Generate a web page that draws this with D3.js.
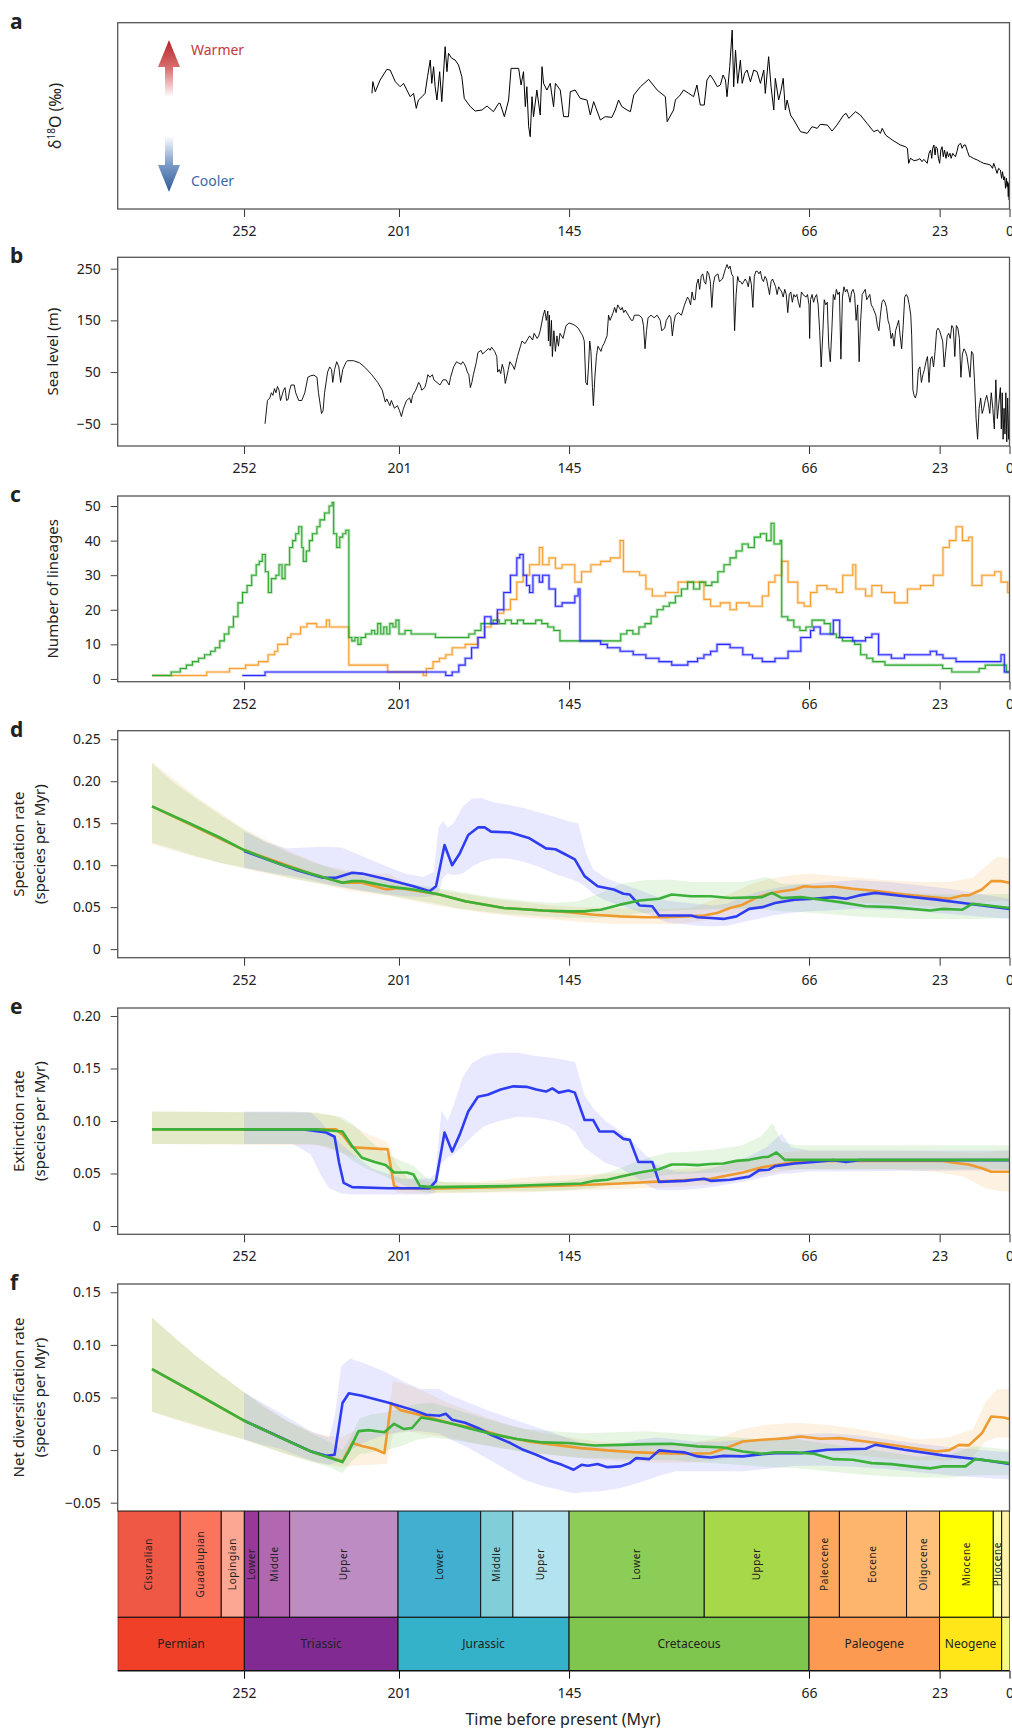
<!DOCTYPE html>
<html>
<head>
<meta charset="utf-8">
<script src="https://cdn.jsdelivr.net/npm/d3@7"></script>
<style>
body { margin: 0; background: #fff; }
svg text { font-family: "Noto Sans", "DejaVu Sans", sans-serif; fill: #222; }
</style>
</head>
<body>
<div id="chart"></div>
<script>
// ---- data (ages in Myr before present) ----
var ageTicks = [252, 201, 145, 66, 23, 0];

// panel a: benthic d18O (permil)
var d18O = [[209.9,-0.50],[209.6,-0.85],[208.8,-0.55],[207.2,-0.90],[205.0,-1.22],[203.9,-1.20],[202.2,-0.85],[200.6,-0.70],[199.5,-0.80],[198.4,-0.60],[197.3,-0.40],[196.2,-0.50],[195.3,-0.05],[194.6,-0.30],[193.4,-0.40],[192.4,-0.50],[191.6,-1.00],[190.7,-1.50],[190.2,-0.80],[189.6,-1.30],[189.1,-0.70],[188.5,-0.30],[187.6,-1.15],[186.9,-0.25],[185.8,-1.90],[185.2,-1.15],[184.7,-1.70],[183.6,-1.55],[182.5,-1.50],[181.4,-1.35],[180.3,-1.00],[179.5,-0.35],[177.5,-0.10],[175.9,0.03],[173.7,0.00],[172.0,-0.12],[169.9,0.05],[168.2,-0.20],[167.7,-0.20],[166.3,0.20],[164.9,-0.30],[164.1,-1.25],[161.6,-1.25],[160.8,-0.75],[160.0,-1.15],[159.4,-0.10],[158.9,-0.70],[158.3,0.50],[157.8,0.80],[157.2,-0.40],[156.7,0.20],[155.6,-0.60],[154.5,0.15],[153.9,-1.30],[153.4,-0.80],[152.3,-0.60],[151.2,-0.80],[150.1,-0.10],[149.5,-0.80],[147.9,-0.60],[146.8,0.20],[145.2,0.20],[144.6,-0.55],[143.0,-0.60],[141.3,-0.35],[139.1,-0.30],[138.0,0.15],[136.9,-0.25],[134.7,0.30],[133.1,0.20],[130.9,0.22],[129.8,0.00],[128.7,-0.30],[127.6,-0.10],[125.9,0.00],[124.8,0.05],[123.7,-0.45],[121.5,-0.70],[118.8,-0.92],[116.0,-0.60],[113.3,-0.40],[112.7,0.35],[110.6,0.00],[110.0,-0.30],[108.4,-0.45],[107.3,-0.60],[105.6,-0.50],[104.0,-0.40],[102.9,-0.75],[101.8,-0.15],[100.5,-0.15],[99.6,-0.90],[98.5,-1.05],[97.4,-0.90],[96.2,-0.70],[95.2,-0.75],[94.3,-1.05],[93.5,-0.90],[93.0,-0.40],[92.1,-1.30],[91.3,-2.40],[90.8,-0.70],[90.2,-1.80],[89.5,-0.80],[88.6,-1.50],[88.0,-0.80],[87.2,-1.10],[86.4,-1.20],[85.3,-0.85],[84.2,-1.20],[83.1,-1.15],[82.0,-0.80],[80.9,-1.20],[80.4,-0.50],[79.3,-1.60],[78.5,-0.70],[77.6,0.00],[77.1,-0.95],[76.0,-0.30],[75.2,-0.60],[74.5,-0.95],[73.8,0.00],[73.2,-0.30],[72.1,0.15],[71.0,0.30],[68.8,0.65],[66.6,0.70],[65.0,0.50],[63.3,0.55],[62.3,0.43],[60.0,0.45],[58.4,0.63],[56.8,0.45],[54.6,0.15],[53.8,0.10],[52.9,0.25],[50.7,0.05],[49.1,0.15],[46.9,0.40],[44.7,0.65],[43.4,0.60],[42.5,0.70],[41.9,0.55],[40.8,0.75],[38.6,0.90],[35.9,1.05],[34.3,1.10],[33.6,1.15],[33.2,1.60],[32.6,1.45],[31.4,1.52],[30.4,1.50],[29.5,1.46],[28.8,1.55],[28.2,1.48],[27.1,1.60],[26.5,1.30],[26.0,1.20],[25.6,1.45],[25.3,1.15],[24.9,1.05],[24.5,1.35],[24.2,1.10],[23.8,1.15],[23.4,1.45],[23.0,1.60],[22.6,1.20],[22.2,1.10],[21.8,1.40],[21.4,1.20],[20.9,1.45],[20.5,1.25],[20.1,1.40],[19.6,1.30],[19.2,1.45],[18.7,1.30],[18.3,1.35],[17.8,1.40],[17.3,1.25],[16.8,1.05],[16.1,1.00],[15.6,1.15],[15.0,1.05],[14.5,1.05],[13.8,1.25],[13.2,1.40],[12.8,1.40],[11.9,1.45],[10.6,1.50],[9.6,1.55],[8.5,1.60],[7.4,1.62],[6.3,1.65],[5.6,1.75],[5.2,1.60],[4.6,1.75],[4.1,1.90],[3.6,1.75],[3.0,1.80],[2.6,2.05],[2.3,1.85],[1.9,2.10],[1.6,2.00],[1.3,2.35],[1.0,2.05],[0.8,2.30],[0.6,2.15],[0.4,2.60],[0.25,2.20],[0.1,2.70],[0.0,2.40]];

// panel b: sea level (m)
var seaLevel = [[245.1,-50],[244.3,-5],[243.5,0],[243,10],[242.5,5],[242,18],[241.5,10],[241,22],[240.5,15],[240,-5],[239,15],[238.5,20],[238,-5],[237.5,-3],[237,15],[236.5,25],[235.5,25],[235,10],[234,-5],[233,-5],[232,10],[231,40],[230,43],[229,44],[228,40],[227.5,10],[227,-10],[226.5,-30],[226,-25],[225.5,10],[224.5,50],[223.8,60],[223.2,55],[222.8,30],[222.2,55],[221.5,70],[220.8,60],[220.2,30],[219.5,55],[218.5,68],[218,72],[216,72],[214,68],[212,58],[210,45],[208,30],[206.5,15],[205.5,-8],[205,-2],[204,-15],[203.5,-5],[202.5,-20],[201.5,-15],[200.8,-25],[200.2,-36],[199.5,-20],[198.5,-5],[197.5,0],[197,-10],[196.5,5],[195.5,15],[194.5,30],[194,25],[193.5,15],[192.5,20],[192,30],[191.5,45],[190.8,40],[190,45],[189.5,35],[188.5,30],[187.5,25],[186.5,35],[185.5,35],[184.5,25],[184,40],[183,60],[182,70],[181.5,68],[180.5,65],[180,70],[179.5,66],[179,60],[178.5,50],[178,45],[177.5,20],[177,30],[176.5,45],[175.5,70],[175,88],[174,92],[173.5,85],[172.5,90],[171.5,96],[171,92],[170.5,98],[169.5,90],[168.8,80],[168.5,50],[168,55],[167.5,47],[167,65],[166.5,55],[166,28],[165,55],[164.5,70],[163.5,62],[163,55],[162,80],[161,100],[160.5,110],[159.5,105],[158.5,115],[158,120],[157,112],[156.5,125],[155.5,115],[155,120],[154.5,130],[153.5,160],[153,170],[152.5,150],[152,168],[151.8,110],[151.5,160],[151.2,100],[150.8,150],[150.5,80],[150,130],[149.5,90],[149,120],[148.5,100],[148,125],[147,115],[146,140],[145,145],[144,143],[143,140],[142,135],[141,125],[140.5,120],[140,110],[139.5,30],[139,25],[138.6,60],[138.2,110],[137.8,90],[137.3,20],[137,-15],[136.5,40],[136,80],[135.5,100],[134.5,90],[134,100],[133.5,105],[132.5,120],[132,160],[131.5,150],[130.5,165],[130,175],[129.5,165],[129,180],[128,170],[127.5,175],[127,165],[126.5,170],[125.5,160],[124.5,150],[124,150],[123.5,160],[122,160],[121,155],[120.5,140],[120,95],[119.5,130],[119,155],[118,160],[117,155],[116,160],[115,150],[114.5,130],[113.5,135],[113,150],[112,160],[111.5,155],[111,120],[110.5,145],[110,160],[109,165],[108,160],[107,180],[106,195],[105.5,190],[105,180],[104.5,205],[104,190],[103.5,190],[103,220],[102.5,230],[102,210],[101.5,235],[101,240],[100.5,225],[100,220],[99.5,245],[99,240],[98.5,225],[98,175],[97.5,220],[97,235],[96,240],[95.5,225],[94.5,230],[94,240],[93.5,250],[93,258],[92.5,250],[92,255],[91.5,240],[91,235],[90.5,130],[90,200],[89.5,235],[89,225],[88.5,225],[88,220],[87,230],[86.5,225],[86,215],[85.5,235],[85,220],[84.5,175],[84,235],[83.5,245],[83,245],[82.5,240],[82,245],[81.5,230],[81,225],[80.5,235],[80,230],[79.5,215],[79,200],[78.5,225],[78,230],[77,215],[76.5,200],[76,215],[75.5,210],[75,205],[74.5,195],[74,210],[73.5,200],[73,165],[72.5,200],[72,205],[71.5,185],[71,200],[70.5,195],[70,200],[69.5,185],[69,175],[68.5,205],[68,200],[67,195],[66.5,200],[66,180],[65.8,115],[65.5,190],[65,200],[64.5,185],[64,195],[63.5,200],[63,180],[62.5,130],[62,60],[61.5,120],[61,190],[60.5,180],[60,185],[59.5,100],[59,70],[58.5,130],[58,200],[57.5,190],[57,210],[56.5,200],[56,205],[55.5,75],[55,195],[54.5,215],[54,205],[53.5,210],[53,200],[52.5,185],[52,205],[51.5,210],[51,200],[50.5,150],[50,180],[49.5,70],[49,150],[48.5,200],[48,205],[47.5,210],[47,190],[46.5,195],[46,200],[45.5,180],[45,175],[44,160],[43.5,140],[43,130],[42.5,160],[42,185],[41.5,190],[41,185],[40.5,175],[40,150],[39.5,140],[39,115],[38.5,125],[38,100],[37.5,130],[37,140],[36.5,150],[36,120],[35.5,95],[35,140],[34.5,195],[34,200],[33.5,195],[33,180],[32.5,160],[32.2,120],[31.8,15],[31.4,5],[31,0],[30.5,10],[30,55],[29.5,60],[29,30],[28.5,45],[28,55],[27.5,70],[27,80],[26.5,30],[26,75],[25.5,80],[25,60],[24.5,90],[24,130],[23.5,135],[23,130],[22.5,120],[22,110],[21.5,60],[21,90],[20.5,120],[20,125],[19.5,115],[19,140],[18.5,135],[18,80],[17.5,140],[17,135],[16.5,115],[16,40],[15.5,85],[15,95],[14.5,90],[14,80],[13.5,60],[13,40],[12.5,90],[12,85],[11.5,30],[11,-40],[10.5,-80],[10,-20],[9.5,0],[9,-30],[8.5,-20],[8,-5],[7.5,5],[7,-10],[6.5,-30],[6,10],[5.5,-20],[5,-60],[4.5,35],[4,-40],[3.5,-10],[3,20],[2.7,-60],[2.4,10],[2.1,-80],[1.8,-20],[1.5,-70],[1.2,10],[0.9,-85],[0.6,0],[0.3,-80],[0,-10]];

// panel c: lineages through time (step values)
var lineagesGreen = [[282.3,1],[277,1],[276,2],[273,3],[271,4],[269,5],[267,6],[265,7],[263,8],[261.5,9],[260,11],[258.5,13],[257,15],[255.5,18],[254,22],[252.5,25],[251,27],[249.5,30],[248,33],[247,34],[246,36],[245,31],[244,25],[243,29],[241.5,30],[240.5,33],[239.5,29],[238.5,33],[237,38],[236,40],[235,42],[234,44],[233,38],[232.5,34],[231.5,37],[230.5,40],[229.5,42],[228,44],[227,46],[225.5,48],[224,50],[223,51],[222.5,42],[221.5,38],[220.5,41],[219.5,42],[218.5,43],[217.5,12],[216.5,11],[215.5,12],[214.5,10],[213.5,12],[212,13],[210,14],[209,13],[208,16],[207,13],[206,15],[205,13],[204,16],[203,15],[202,17],[201,13],[199,14],[197,13],[189,12],[178,13],[176,14],[174,16],[172,16],[170,17],[168,16],[166,17],[164,16],[162,17],[160,16],[156,17],[154,16],[152,15],[150,14],[148,11],[130,11],[128,13],[126,14],[124,13],[122,15],[120,16],[118,18],[116,20],[114,21],[112,22],[110,24],[108,26],[106,28],[104,26],[102,28],[100,27],[98,28],[96,31],[94,33],[92,35],[90,37],[88,39],[86,38],[84,41],[82,42],[80,40],[78.5,45],[77.5,39],[75.5,40],[75,18],[73,17],[71,15],[69,14],[67,15],[65,17],[61,16],[59,13],[57,12],[55,11],[51,10],[49,7],[47,6],[45,5],[41,4],[22,3],[19,2],[10,3],[8,4],[1,2],[0,2]];
var lineagesOrange = [[282.3,1],[264.3,2],[256.8,3],[251.5,4],[247.3,5],[244.1,7],[241.9,8],[240.9,10],[237.7,12],[236.6,13],[233.4,15],[231.3,16],[228.1,15],[224.9,17],[223.9,15],[217.5,4],[204.7,2],[193.0,1],[192.0,3],[189.8,5],[187.7,6],[185.6,7],[183.5,9],[179.2,10],[175.0,12],[172.8,15],[170.7,16],[168.6,19],[166.5,20],[164.3,23],[162.2,28],[160.1,30],[158.0,33],[154.8,38],[153.7,33],[151.6,35],[149.5,32],[147.3,33],[143.1,28],[140.9,31],[137.8,33],[134.6,34],[131.4,35],[128.2,40],[127.1,31],[121.8,30],[119.7,26],[117.6,24],[113.3,25],[109.1,28],[100.6,23],[98.4,21],[95.2,22],[92.0,20],[89.9,22],[85.7,21],[81.4,24],[79.3,28],[77.2,30],[75.0,34],[72.9,28],[69.7,22],[67.6,21],[65.5,25],[63.4,27],[60.1,26],[57.0,25],[54.9,30],[51.6,33],[50.6,26],[47.4,24],[45.3,27],[42.1,25],[37.8,22],[33.6,26],[29.3,27],[25.1,30],[21.9,38],[19.8,40],[17.6,44],[15.5,40],[13.4,41],[12.3,27],[9.1,30],[4.9,31],[2.8,28],[0.6,25],[0,25]];
var lineagesBlue = [[252.6,1],[245.1,2],[185.6,1],[183.5,2],[181.3,4],[179.2,6],[177.1,9],[175.0,12],[172.8,18],[170.7,16],[168.6,20],[166.5,25],[164.3,30],[162.2,35],[161.2,36],[160.1,30],[159.0,27],[158.0,25],[156.9,30],[154.8,28],[153.7,30],[151.6,26],[149.5,21],[147.3,22],[143.1,24],[142.0,26],[141.4,11],[134.6,10],[132.4,9],[128.2,8],[123.9,7],[119.7,6],[115.4,5],[111.2,4],[105.9,5],[102.7,6],[100.6,7],[98.4,8],[96.3,10],[92.0,9],[87.8,7],[84.6,6],[81.4,5],[77.2,6],[72.9,8],[68.7,12],[65.5,14],[64.4,15],[62.3,13],[58.0,17],[55.9,12],[51.6,11],[47.4,12],[45.3,13],[43.1,7],[38.9,6],[34.6,7],[26.1,8],[24.0,7],[21.9,6],[17.6,5],[4.9,5],[2.8,7],[1.7,2],[0,2]];

// panel d: speciation rate, mean [age, rate] and 95% band [age, lo, hi]
var specGreen = [[282.3,0.170],[270,0.150],[260,0.133],[252,0.118],[240,0.101],[230.2,0.090],[219.6,0.079],[216.4,0.081],[213.2,0.081],[204.7,0.075],[201,0.073],[196.2,0.071],[187.7,0.065],[179.2,0.057],[166.5,0.049],[153.7,0.046],[145.2,0.045],[139.9,0.045],[137.8,0.046],[134.6,0.047],[128.2,0.053],[121.8,0.058],[115.4,0.060],[111.2,0.065],[104.8,0.063],[98.4,0.063],[92.0,0.061],[81.4,0.062],[78.2,0.067],[75.0,0.061],[68.7,0.062],[64.4,0.060],[55.9,0.056],[47.4,0.051],[38.9,0.050],[26.1,0.046],[21.9,0.048],[15.5,0.047],[12.3,0.054],[7.0,0.052],[0,0.049]];
var specOrange = [[282.3,0.170],[252,0.118],[230.2,0.090],[219.6,0.079],[213.2,0.079],[206,0.072],[204.7,0.071],[201,0.073],[187.7,0.065],[179.2,0.057],[166.5,0.049],[153.7,0.046],[145.2,0.044],[136.7,0.041],[128.2,0.039],[119.7,0.038],[113.3,0.038],[106.9,0.039],[100.6,0.040],[96.3,0.043],[92.0,0.049],[87.8,0.053],[83.5,0.061],[79.3,0.066],[75.0,0.069],[70.8,0.071],[67.6,0.075],[64.4,0.074],[58.0,0.075],[51.6,0.072],[43.1,0.069],[34.6,0.065],[26.1,0.062],[19.8,0.060],[15.5,0.064],[13.4,0.064],[9.1,0.071],[6.0,0.081],[2.8,0.081],[0,0.079]];
var specBlue = [[252,0.117],[234.5,0.094],[226,0.085],[221.7,0.085],[216.4,0.091],[213.2,0.090],[204.7,0.083],[196.2,0.075],[190.9,0.069],[188.8,0.075],[186,0.124],[183.5,0.100],[181,0.114],[178.2,0.136],[175,0.145],[172.8,0.145],[170.7,0.140],[164.3,0.139],[158,0.132],[152.6,0.120],[149.5,0.119],[146.3,0.113],[143.1,0.107],[139.9,0.087],[135.6,0.075],[130.3,0.071],[127.1,0.066],[125,0.065],[121.8,0.052],[117.6,0.051],[115.4,0.040],[111.2,0.040],[104.8,0.040],[102.7,0.038],[98.4,0.037],[94.2,0.036],[89.9,0.039],[85.7,0.048],[81.4,0.050],[77.2,0.055],[70.8,0.059],[64.4,0.060],[58,0.062],[53.8,0.060],[49.5,0.064],[44.2,0.067],[34.6,0.063],[24,0.059],[13.4,0.054],[0,0.048]];
var specBandGreen = [[282.3,0.127,0.221],[275,0.119,0.198],[268,0.111,0.180],[260,0.103,0.160],[252,0.097,0.142],[245,0.092,0.128],[238,0.086,0.116],[230,0.080,0.104],[222,0.075,0.095],[214,0.070,0.088],[206,0.065,0.083],[198,0.060,0.078],[190,0.055,0.074],[182,0.049,0.069],[174,0.045,0.064],[166,0.042,0.060],[158,0.040,0.057],[150,0.038,0.055],[142,0.037,0.057],[135,0.037,0.066],[128,0.040,0.078],[120,0.043,0.082],[112,0.046,0.083],[104,0.047,0.080],[96,0.048,0.080],[88,0.048,0.080],[80,0.047,0.086],[75,0.045,0.078],[68,0.044,0.078],[60,0.042,0.075],[50,0.039,0.070],[40,0.037,0.068],[30,0.036,0.066],[20,0.036,0.065],[10,0.036,0.065],[0,0.037,0.066]];
var specBandOrange = [[282.3,0.125,0.223],[268,0.110,0.182],[252,0.096,0.143],[238,0.085,0.118],[226,0.077,0.100],[218,0.070,0.094],[210,0.066,0.090],[204,0.064,0.090],[200,0.060,0.080],[190,0.053,0.072],[180,0.047,0.066],[170,0.042,0.060],[160,0.038,0.056],[150,0.035,0.052],[140,0.032,0.050],[130,0.030,0.049],[120,0.030,0.048],[110,0.030,0.048],[104,0.032,0.050],[98,0.035,0.058],[92,0.040,0.066],[86,0.046,0.076],[80,0.052,0.083],[72,0.056,0.088],[66,0.058,0.090],[60,0.058,0.088],[50,0.056,0.085],[40,0.054,0.082],[30,0.052,0.080],[20,0.050,0.080],[12,0.052,0.085],[8,0.056,0.098],[4,0.058,0.110],[0,0.057,0.108]];
var specBandBlue = [[252,0.097,0.140],[245,0.092,0.128],[238,0.088,0.120],[232,0.084,0.121],[226,0.079,0.122],[220,0.074,0.121],[214,0.070,0.112],[206,0.066,0.100],[199,0.063,0.090],[193,0.062,0.086],[189.5,0.063,0.092],[188,0.066,0.145],[186.5,0.085,0.153],[185,0.090,0.145],[183,0.088,0.150],[180,0.090,0.170],[177,0.098,0.179],[174,0.104,0.180],[170,0.108,0.175],[165,0.108,0.172],[160,0.104,0.168],[155,0.098,0.163],[150,0.090,0.158],[145,0.084,0.152],[142,0.080,0.150],[139.5,0.074,0.115],[137,0.066,0.095],[133,0.058,0.085],[128,0.052,0.078],[123,0.046,0.072],[118,0.040,0.065],[113,0.032,0.058],[108,0.030,0.056],[103,0.028,0.054],[98,0.027,0.052],[93,0.028,0.054],[88,0.032,0.062],[83,0.036,0.068],[78,0.040,0.072],[72,0.043,0.076],[66,0.045,0.078],[60,0.046,0.080],[50,0.048,0.082],[40,0.047,0.080],[30,0.045,0.076],[20,0.042,0.072],[10,0.039,0.066],[0,0.036,0.060]];

// panel e: extinction rate
var extGreen = [[282.3,0.092],[228.1,0.092],[219.6,0.090],[216.4,0.076],[213.2,0.065],[209,0.061],[205.4,0.058],[202.6,0.051],[198.4,0.051],[196.2,0.049],[194.1,0.038],[189.8,0.037],[166,0.038],[140.9,0.0405],[136.7,0.043],[132.4,0.044],[128.2,0.047],[121.8,0.051],[115.4,0.054],[111.2,0.0585],[106.9,0.0585],[102.7,0.058],[98.4,0.059],[94.2,0.0595],[89.9,0.062],[85.7,0.063],[81.4,0.0655],[79.3,0.066],[76.7,0.070],[74,0.063],[0,0.063]];
var extOrange = [[282.3,0.092],[221.7,0.092],[219.6,0.087],[216.4,0.075],[204.7,0.073],[202.6,0.038],[200.5,0.0357],[187.7,0.0357],[145.2,0.0386],[128.2,0.0405],[111.2,0.043],[98.4,0.045],[87.8,0.051],[81.4,0.056],[75,0.059],[68.7,0.0617],[55.9,0.062],[21.9,0.062],[17.6,0.060],[13.4,0.0585],[9.1,0.055],[6,0.0516],[0,0.0516]];
var extBlue = [[252,0.092],[232.4,0.092],[224.9,0.089],[222.2,0.085],[220.7,0.060],[219.2,0.041],[216.4,0.037],[204.7,0.036],[190.9,0.036],[188.8,0.043],[186,0.089],[183.5,0.071],[181,0.087],[178.2,0.109],[175,0.123],[171.8,0.125],[167.5,0.130],[163.3,0.133],[159,0.1325],[155.8,0.130],[152.6,0.128],[150.5,0.131],[148.4,0.127],[145.2,0.129],[143.1,0.127],[139.9,0.101],[137.1,0.101],[135,0.090],[130.3,0.090],[127.1,0.083],[125,0.082],[122.2,0.061],[117.6,0.061],[115.4,0.042],[106.9,0.043],[100.6,0.045],[98.4,0.043],[92,0.044],[85.7,0.047],[82.5,0.053],[79.3,0.0535],[77.2,0.057],[70.8,0.0595],[64.4,0.061],[58,0.0627],[53.8,0.061],[49.5,0.0627],[0,0.0627]];
var extBandGreen = [[282.3,0.078,0.109],[230,0.078,0.108],[225,0.076,0.106],[220,0.070,0.104],[216,0.062,0.097],[212,0.055,0.085],[208,0.050,0.075],[204,0.045,0.067],[200,0.040,0.062],[196,0.034,0.057],[192,0.032,0.046],[186,0.032,0.042],[176,0.032,0.041],[166,0.033,0.041],[156,0.033,0.042],[146,0.034,0.043],[138,0.036,0.047],[130,0.039,0.053],[124,0.042,0.060],[118,0.046,0.066],[112,0.049,0.070],[104,0.050,0.071],[96,0.051,0.073],[88,0.053,0.077],[82,0.054,0.085],[78,0.055,0.098],[75,0.054,0.080],[70,0.054,0.077],[0,0.054,0.077]];
var extBandOrange = [[282.3,0.078,0.109],[228,0.077,0.108],[222,0.072,0.105],[216,0.066,0.095],[210,0.062,0.086],[205,0.056,0.080],[202,0.032,0.060],[198,0.031,0.045],[190,0.031,0.042],[175,0.032,0.042],[160,0.032,0.046],[150,0.033,0.048],[140,0.034,0.049],[130,0.035,0.050],[120,0.036,0.052],[110,0.037,0.054],[100,0.039,0.056],[90,0.043,0.060],[82,0.048,0.066],[75,0.052,0.070],[68,0.054,0.072],[40,0.054,0.072],[25,0.052,0.071],[15,0.047,0.070],[8,0.036,0.070],[3,0.033,0.072],[0,0.033,0.072]];
var extBandBlue = [[252,0.078,0.109],[236,0.078,0.109],[230,0.068,0.108],[227,0.050,0.100],[224,0.036,0.090],[220,0.031,0.078],[216,0.030,0.068],[210,0.030,0.055],[200,0.030,0.045],[191,0.030,0.045],[189,0.032,0.050],[187,0.060,0.110],[185,0.065,0.100],[183,0.068,0.115],[180,0.076,0.142],[177,0.085,0.155],[173,0.095,0.162],[168,0.100,0.165],[162,0.104,0.165],[156,0.103,0.162],[150,0.100,0.160],[146,0.096,0.158],[143,0.090,0.156],[140,0.075,0.125],[137,0.068,0.112],[133,0.060,0.100],[128,0.055,0.090],[124,0.048,0.080],[120,0.040,0.068],[116,0.034,0.058],[110,0.034,0.052],[104,0.035,0.052],[98,0.037,0.055],[92,0.040,0.060],[86,0.043,0.066],[80,0.047,0.075],[75,0.050,0.088],[72,0.050,0.075],[66,0.052,0.072],[0,0.053,0.072]];

// panel f: net diversification rate
var netGreen = [[282.3,0.077],[268.5,0.055],[252,0.028],[240.9,0.013],[230.2,-0.001],[219.6,-0.0114],[217.5,-0.001],[214.3,0.018],[211.1,0.019],[205.8,0.017],[202.6,0.025],[199.4,0.020],[196.7,0.021],[193.7,0.031],[189.8,0.029],[183.5,0.025],[177.1,0.020],[170.7,0.0155],[162.2,0.0105],[153.7,0.0073],[145.2,0.0067],[136.7,0.0044],[128.2,0.005],[119.7,0.0057],[111.2,0.006],[102.7,0.0035],[94.2,0.0025],[87.8,-0.0013],[81.4,-0.0035],[77.2,-0.0022],[70.8,-0.0022],[64.4,-0.0035],[58,-0.0086],[51.6,-0.0092],[45.3,-0.0124],[38.9,-0.0133],[32.5,-0.0155],[26.1,-0.0174],[21.9,-0.0155],[14.5,-0.0155],[11.3,-0.0086],[0,-0.0124]];
var netOrange = [[282.3,0.077],[252,0.028],[230.2,-0.001],[219.6,-0.0105],[216.4,0.0067],[213.2,0.004],[209,0.001],[205.8,-0.003],[203.6,0.0447],[200.5,0.038],[192,0.032],[183.5,0.025],[175,0.020],[166.5,0.013],[158,0.008],[149.5,0.005],[141,0.0019],[132.4,-0.0003],[124,-0.0019],[115.4,-0.0029],[106.9,-0.0035],[98.4,-0.003],[92,0.0035],[87.8,0.0082],[81.4,0.0098],[77.2,0.0105],[72.9,0.0114],[68.7,0.013],[62.3,0.0108],[55.9,0.0114],[47.4,0.0082],[38.9,0.005],[30.4,0.0013],[24,-0.0013],[19.8,0.000],[16.6,0.005],[13.4,0.0045],[9.1,0.016],[6,0.032],[2,0.031],[0,0.0295]];
var netBlue = [[252,0.028],[230.2,-0.001],[224.9,-0.0054],[222.2,-0.0044],[219.6,0.0447],[217.5,0.054],[213.2,0.0517],[204.7,0.0453],[196.2,0.038],[192,0.0336],[187.7,0.0327],[185.6,0.0345],[183.5,0.0289],[179.2,0.026],[175,0.021],[170.7,0.0146],[164.3,0.0067],[160.1,0.0003],[155.8,-0.0044],[151.6,-0.0098],[147.3,-0.014],[143.5,-0.0187],[140.9,-0.014],[138.8,-0.0149],[135.6,-0.0133],[132.4,-0.0162],[128.2,-0.0155],[125,-0.0124],[122.9,-0.0076],[118.6,-0.0086],[115.4,-0.0003],[111.2,-0.0013],[106.9,-0.0022],[102.7,-0.006],[98.4,-0.007],[94.2,-0.0055],[87.8,-0.006],[81.4,-0.0038],[77.2,-0.0029],[68.7,-0.0029],[60.1,0.0003],[47.4,0.0013],[44.2,0.005],[34.6,0.0003],[21.9,-0.005],[9.1,-0.0092],[0,-0.0133]];
var netBandGreen = [[282.3,0.037,0.126],[275,0.030,0.107],[268,0.024,0.090],[260,0.017,0.072],[252,0.010,0.055],[245,0.003,0.040],[238,-0.004,0.028],[230,-0.011,0.016],[224,-0.016,0.008],[219.6,-0.022,0.000],[217,-0.012,0.012],[214,-0.004,0.030],[210,-0.002,0.034],[205,0.000,0.036],[200,0.004,0.040],[195,0.010,0.044],[190,0.012,0.045],[184,0.010,0.040],[176,0.006,0.033],[168,0.002,0.026],[160,-0.002,0.020],[150,-0.005,0.018],[140,-0.008,0.016],[130,-0.008,0.017],[120,-0.009,0.018],[110,-0.010,0.016],[100,-0.012,0.014],[90,-0.014,0.012],[80,-0.016,0.010],[70,-0.017,0.010],[60,-0.020,0.006],[50,-0.023,0.002],[40,-0.025,-0.002],[30,-0.026,-0.006],[20,-0.026,-0.005],[12,-0.024,0.004],[5,-0.024,0.002],[0,-0.024,0.000]];
var netBandOrange = [[282.3,0.036,0.126],[268,0.023,0.090],[252,0.010,0.055],[238,-0.004,0.028],[228,-0.012,0.015],[220,-0.016,0.012],[216,-0.015,0.018],[210,-0.014,0.016],[205,-0.013,0.020],[203,0.015,0.066],[198,0.018,0.062],[192,0.015,0.055],[185,0.012,0.045],[175,0.006,0.034],[165,0.001,0.024],[155,-0.003,0.017],[145,-0.006,0.012],[135,-0.009,0.008],[125,-0.011,0.006],[115,-0.012,0.005],[105,-0.012,0.006],[95,-0.009,0.012],[88,-0.004,0.020],[80,-0.001,0.024],[70,0.000,0.026],[60,-0.002,0.024],[50,-0.005,0.020],[40,-0.008,0.015],[30,-0.010,0.010],[20,-0.010,0.012],[12,-0.006,0.020],[8,0.008,0.045],[4,0.012,0.058],[0,0.012,0.058]];
var netBandBlue = [[252,0.010,0.055],[240,0.001,0.035],[230,-0.010,0.018],[224,-0.014,0.012],[222,-0.012,0.035],[220,-0.008,0.080],[217,0.000,0.087],[212,0.008,0.082],[206,0.014,0.075],[200,0.018,0.066],[194,0.018,0.058],[188,0.016,0.058],[184,0.010,0.052],[178,0.002,0.045],[172,-0.008,0.038],[166,-0.018,0.032],[160,-0.028,0.026],[154,-0.034,0.020],[148,-0.038,0.014],[144,-0.041,0.010],[140,-0.040,0.006],[134,-0.039,0.005],[128,-0.036,0.006],[122,-0.031,0.010],[116,-0.025,0.012],[110,-0.020,0.010],[104,-0.020,0.008],[96,-0.020,0.008],[88,-0.020,0.010],[80,-0.018,0.010],[70,-0.015,0.015],[60,-0.015,0.016],[50,-0.016,0.014],[40,-0.018,0.010],[30,-0.021,0.006],[20,-0.024,0.003],[10,-0.026,0.000],[0,-0.028,-0.002]];

// geological timescale
var stageNames = ["Cisuralian","Guadalupian","Lopingian","Lower","Middle","Upper","Lower","Middle","Upper","Lower","Upper","Paleocene","Eocene","Oligocene","Miocene","Pliocene","Pleistocene","Holocene"];
var stageBase = [298.9,273.01,259.51,251.902,247.2,237,201.3,174.1,163.5,145,100.5,66,56,33.9,23.03,5.333,2.58,0.0117];
var stageColors = ["#EF5845","#FB745C","#FBA794","#983999","#B168B1","#BD8CC3","#42AED0","#80CFD8","#B3E3EE","#8CCD57","#A6D84A","#FDA75F","#FDB46C","#FEC07A","#FFFF00","#FFFF99","#FFF2AE","#FEF2E0"];
var periodNames = ["Permian","Triassic","Jurassic","Cretaceous","Paleogene","Neogene","Quaternary"];
var periodBase = [298.9,251.902,201.3,145,66,23.03,2.58];
var periodColors = ["#F04028","#812B92","#34B2C9","#7FC64E","#FD9A52","#FFE619","#F9F97F"];

// ---- layout ----
var svgWidth = 1012;
var svgHeight = 1728;
var plotLeft = 117.7;
var plotRight = 1009.5;
var ageMax = 293.6;

var green = "#3bb13a", orange = "#ee9a2e", blue = "#2f3df2";
var cGreen = "#2fa82f", cOrange = "#f5a030", cBlue = "#2b2bff";

var svg = d3.select("#chart").append("svg")
    .attr("width", svgWidth)
    .attr("height", svgHeight);
var defs = svg.append("defs");

var x = d3.scaleLinear().domain([ageMax, 0]).range([plotLeft, plotRight]);

function makePanel(opt) {
    var y = d3.scaleLinear().domain(opt.yDomain).range([opt.bottom, opt.top]);
    var g = svg.append("g");
    defs.append("clipPath").attr("id", "clip-" + opt.letter)
        .append("rect")
        .attr("x", plotLeft).attr("y", opt.top)
        .attr("width", plotRight - plotLeft).attr("height", opt.bottom - opt.top);
    var plot = g.append("g").attr("clip-path", "url(#clip-" + opt.letter + ")");

    if (opt.yTicks) {
        var ya = g.append("g")
            .attr("transform", `translate(${plotLeft},0)`)
            .call(d3.axisLeft(y).tickValues(opt.yTicks).tickSize(7).tickPadding(10).tickFormat(opt.fmt));
        ya.select(".domain").remove();
        ya.selectAll("line").attr("stroke", "#444");
        ya.selectAll("text").style("font-size", "14px").attr("fill", "#222");
    }
    if (!opt.noXAxis) {
        var xa = g.append("g")
            .attr("transform", `translate(0,${opt.bottom})`)
            .call(d3.axisBottom(x).tickValues(ageTicks).tickSize(8).tickPadding(9).tickFormat(d3.format("d")));
        xa.select(".domain").remove();
        xa.selectAll("line").attr("stroke", "#333");
        xa.selectAll("text").style("font-size", "14px").attr("fill", "#222");
    }
    // panel letter
    g.append("text")
        .attr("x", 10).attr("y", opt.top + 6)
        .style("font-size", "21px").style("font-weight", "bold")
        .attr("fill", "#000")
        .text(opt.letter);
    // y title
    var midY = (opt.top + opt.bottom) / 2;
    if (opt.title && opt.title.length === 1) {
        g.append("text")
            .attr("transform", `translate(53,${midY}) rotate(-90)`)
            .attr("text-anchor", "middle").attr("dy", "0.35em")
            .style("font-size", "15px")
            .text(opt.title[0]);
    } else if (opt.title) {
        opt.title.forEach(function(t, i) {
            g.append("text")
                .attr("transform", `translate(${19 + i * 21},${midY}) rotate(-90)`)
                .attr("text-anchor", "middle").attr("dy", "0.35em")
                .style("font-size", "15px")
                .text(t);
        });
    }
    return {g: g, plot: plot, y: y, top: opt.top, bottom: opt.bottom};
}

function drawFrame(p) {
    p.g.append("rect")
        .attr("x", plotLeft).attr("y", p.top)
        .attr("width", plotRight - plotLeft).attr("height", p.bottom - p.top)
        .attr("fill", "none").attr("stroke", "#555").attr("stroke-width", 1.3);
}

// ---- panel a ----
var pa = makePanel({letter: "a", top: 22.7, bottom: 209, yDomain: [2.97, -2.62]});
pa.g.append("text")
    .attr("transform", "translate(55,116) rotate(-90)")
    .attr("text-anchor", "middle").attr("dy", "0.35em")
    .style("font-size", "16px")
    .html('δ<tspan dy="-6" style="font-size:10px">18</tspan><tspan dy="6">O (‰)</tspan>');

var gradR = defs.append("linearGradient").attr("id", "warmGrad")
    .attr("x1", 0).attr("y1", 0).attr("x2", 0).attr("y2", 1);
gradR.append("stop").attr("offset", "0%").attr("stop-color", "#b5262b");
gradR.append("stop").attr("offset", "50%").attr("stop-color", "#d97070");
gradR.append("stop").attr("offset", "100%").attr("stop-color", "#ffffff");
var gradB = defs.append("linearGradient").attr("id", "coolGrad")
    .attr("x1", 0).attr("y1", 0).attr("x2", 0).attr("y2", 1);
gradB.append("stop").attr("offset", "0%").attr("stop-color", "#ffffff");
gradB.append("stop").attr("offset", "50%").attr("stop-color", "#7b9cc8");
gradB.append("stop").attr("offset", "100%").attr("stop-color", "#2e5b98");

var arrowX = 169;
pa.g.append("path")
    .attr("d", `M${arrowX},40 L${arrowX + 11},67 L${arrowX + 4},67 L${arrowX + 4},97 L${arrowX - 4},97 L${arrowX - 4},67 L${arrowX - 11},67 Z`)
    .attr("fill", "url(#warmGrad)");
pa.g.append("path")
    .attr("d", `M${arrowX},192 L${arrowX + 11},165 L${arrowX + 4},165 L${arrowX + 4},136 L${arrowX - 4},136 L${arrowX - 4},165 L${arrowX - 11},165 Z`)
    .attr("fill", "url(#coolGrad)");
pa.g.append("text").attr("x", 191).attr("y", 50).attr("dy", "0.35em")
    .style("font-size", "14px").style("fill", "#c23a3a").text("Warmer");
pa.g.append("text").attr("x", 191).attr("y", 181).attr("dy", "0.35em")
    .style("font-size", "14px").style("fill", "#3a68a8").text("Cooler");

pa.plot.append("path")
    .datum(d18O)
    .attr("fill", "none").attr("stroke", "#000").attr("stroke-width", 1)
    .attr("d", d3.line().x(d => x(d[0])).y(d => pa.y(d[1])));
drawFrame(pa);

// ---- panel b ----
var pb = makePanel({letter: "b", top: 257.3, bottom: 446, yDomain: [-93, 272],
    yTicks: [250, 150, 50, -50], fmt: d3.format("d"), title: ["Sea level (m)"]});
pb.plot.append("path")
    .datum(seaLevel)
    .attr("fill", "none").attr("stroke", "#000").attr("stroke-width", 0.9)
    .attr("d", d3.line().x(d => x(d[0])).y(d => pb.y(d[1])));
drawFrame(pb);

// ---- panel c ----
var pc = makePanel({letter: "c", top: 496, bottom: 681.7, yDomain: [-0.8, 52.9],
    yTicks: [0, 10, 20, 30, 40, 50], fmt: d3.format("d"), title: ["Number of lineages"]});
var stepLine = d3.line().curve(d3.curveStepAfter).x(d => x(d[0])).y(d => pc.y(d[1]));
[[lineagesOrange, cOrange], [lineagesGreen, cGreen], [lineagesBlue, cBlue]].forEach(function(s) {
    pc.plot.append("path").datum(s[0])
        .attr("fill", "none").attr("stroke", s[1]).attr("stroke-width", 3).attr("stroke-opacity", 0.3)
        .attr("d", stepLine);
    pc.plot.append("path").datum(s[0])
        .attr("fill", "none").attr("stroke", s[1]).attr("stroke-width", 1.1)
        .attr("d", stepLine);
});
drawFrame(pc);

// ---- rate panels ----
function drawRates(p, bands, lines) {
    var area = d3.area().x(d => x(d[0])).y0(d => p.y(d[1])).y1(d => p.y(d[2]));
    var line = d3.line().x(d => x(d[0])).y(d => p.y(d[1]));
    bands.forEach(function(b) {
        p.plot.append("path").datum(b[0])
            .attr("fill", b[1]).attr("fill-opacity", 0.16).attr("stroke", "none")
            .attr("d", area);
    });
    lines.forEach(function(l) {
        p.plot.append("path").datum(l[0])
            .attr("fill", "none").attr("stroke", l[1]).attr("stroke-width", 2.6)
            .attr("stroke-linejoin", "round")
            .attr("d", line);
    });
}
var bandOrange = "rgb(245,165,70)", bandGreen = "rgb(100,200,80)", bandBlue = "rgb(110,120,255)";
var rateFmt = function(d) { return d === 0 ? "0" : d3.format(".2f")(d).replace("-", "\u2212"); };

var pd = makePanel({letter: "d", top: 730.7, bottom: 957.7, yDomain: [-0.0102, 0.2602],
    yTicks: [0, 0.05, 0.10, 0.15, 0.20, 0.25], fmt: rateFmt, title: ["Speciation rate", "(species per Myr)"]});
drawRates(pd,
    [[specBandOrange, bandOrange], [specBandGreen, bandGreen], [specBandBlue, bandBlue]],
    [[specOrange, orange], [specBlue, blue], [specGreen, green]]);
drawFrame(pd);

var pe = makePanel({letter: "e", top: 1008, bottom: 1234.3, yDomain: [-0.0079, 0.2076],
    yTicks: [0, 0.05, 0.10, 0.15, 0.20], fmt: rateFmt, title: ["Extinction rate", "(species per Myr)"]});
drawRates(pe,
    [[extBandOrange, bandOrange], [extBandGreen, bandGreen], [extBandBlue, bandBlue]],
    [[extOrange, orange], [extBlue, blue], [extGreen, green]]);
drawFrame(pe);

var pf = makePanel({letter: "f", top: 1284, bottom: 1511, yDomain: [-0.0579, 0.1579], noXAxis: true,
    yTicks: [-0.05, 0, 0.05, 0.10, 0.15], fmt: rateFmt, title: ["Net diversification rate", "(species per Myr)"]});
drawRates(pf,
    [[netBandOrange, bandOrange], [netBandGreen, bandGreen], [netBandBlue, bandBlue]],
    [[netOrange, orange], [netBlue, blue], [netGreen, green]]);
drawFrame(pf);

// ---- geological timescale ----
var tsTop = 1511, tsMid = 1617.3, tsBottom = 1670.7;
var ts = svg.append("g");
defs.append("clipPath").attr("id", "clip-ts").append("rect")
    .attr("x", plotLeft).attr("y", tsTop).attr("width", plotRight - plotLeft).attr("height", tsBottom - tsTop);
var tsPlot = ts.append("g").attr("clip-path", "url(#clip-ts)");

function cells(names, bases, colors) {
    return names.map(function(n, i) {
        var older = Math.min(bases[i], ageMax);
        var younger = i + 1 < bases.length ? bases[i + 1] : 0;
        return {name: n, x0: x(older), x1: x(younger), color: colors[i]};
    });
}
var stages = cells(stageNames, stageBase, stageColors);
var periods = cells(periodNames, periodBase, periodColors);

tsPlot.selectAll("rect.stage").data(stages).enter().append("rect")
    .attr("x", d => d.x0).attr("y", tsTop).attr("width", d => d.x1 - d.x0).attr("height", tsMid - tsTop)
    .attr("fill", d => d.color).attr("stroke", "#111").attr("stroke-width", 1);
tsPlot.selectAll("rect.period").data(periods).enter().append("rect")
    .attr("x", d => d.x0).attr("y", tsMid).attr("width", d => d.x1 - d.x0).attr("height", tsBottom - tsMid)
    .attr("fill", d => d.color).attr("stroke", "#111").attr("stroke-width", 1);
tsPlot.selectAll("text.stage").data(stages.filter(d => d.x1 - d.x0 > 8)).enter().append("text")
    .attr("transform", d => `translate(${(d.x0 + d.x1) / 2},${(tsTop + tsMid) / 2}) rotate(-90)`)
    .attr("text-anchor", "middle").attr("dy", "0.35em")
    .style("font-size", "10px").style("letter-spacing", "0.6px")
    .text(d => d.name);
tsPlot.selectAll("text.period").data(periods.filter(d => d.x1 - d.x0 > 30)).enter().append("text")
    .attr("x", d => (d.x0 + d.x1) / 2).attr("y", (tsMid + tsBottom) / 2)
    .attr("text-anchor", "middle").attr("dy", "0.35em")
    .style("font-size", "12px")
    .text(d => d.name);
ts.append("line").attr("x1", plotLeft).attr("x2", plotRight).attr("y1", tsBottom).attr("y2", tsBottom)
    .attr("stroke", "#111").attr("stroke-width", 1.5);

var xaTs = ts.append("g")
    .attr("transform", `translate(0,${tsBottom})`)
    .call(d3.axisBottom(x).tickValues(ageTicks).tickSize(8).tickPadding(9).tickFormat(d3.format("d")));
xaTs.select(".domain").remove();
xaTs.selectAll("text").style("font-size", "14px");

svg.append("text")
    .attr("x", 563).attr("y", 1719).attr("dy", "0.35em")
    .attr("text-anchor", "middle")
    .style("font-size", "16px")
    .text("Time before present (Myr)");
</script>
</body>
</html>
